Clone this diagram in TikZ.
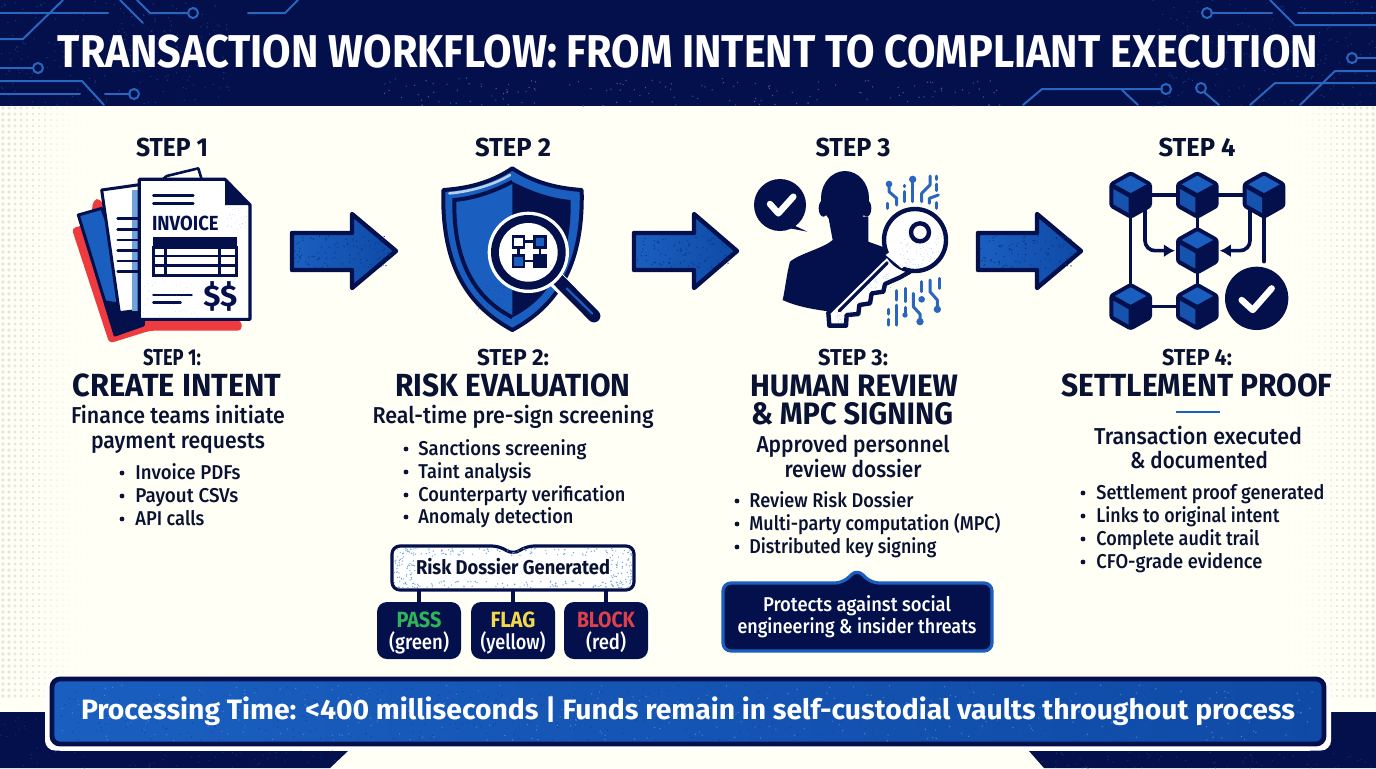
\documentclass[tikz,border=0pt]{standalone}
\usepackage{fontspec}
\usepackage{graphicx}
\setmainfont{Fira Sans}
\newfontfamily\fmedium{Fira Sans Medium}
\usetikzlibrary{arrows.meta,calc}
\definecolor{navy}{HTML}{03104C}
\definecolor{ink}{HTML}{0A1233}
\definecolor{cream}{HTML}{FFFFF6}
\definecolor{blu}{HTML}{1A5FC0}
\definecolor{bludark}{HTML}{0F4AA6}
\definecolor{blulight}{HTML}{6FA3DC}
\definecolor{circ}{HTML}{2A66BE}
\definecolor{redp}{HTML}{EE3B3F}
\definecolor{dotg}{HTML}{E6E6DD}
\definecolor{passg}{HTML}{2FB45A}
\definecolor{flagy}{HTML}{F3D94A}
\definecolor{blockr}{HTML}{E0404A}
\newsavebox\tbox
\newcommand\fitw[2]{\sbox\tbox{#2}\pgfmathsetmacro\rr{0.5*#1/\wd\tbox}\scalebox{\rr}[1]{\usebox\tbox}}
\newcommand\fontb{\bfseries}
\newcommand\fontr{\fmedium}
% name, centre x, visual y, width, px size, b|r, colour, text
\newcommand\tl[8]{\pgfmathsetmacro\by{#3+0.34*#5}\pgfmathsetmacro\fs{#5/2}%
  \node[inner sep=0,anchor=base,text=#7] (#1) at (#2,\by) {\fitw{#4}{\fontsize{\fs pt}{\fs pt}\selectfont\csname font#6\endcsname #8}};}
% name, left x, visual y, width, px size, b|r, colour, text
\newcommand\tll[8]{\pgfmathsetmacro\by{#3+0.34*#5}\pgfmathsetmacro\fs{#5/2}%
  \node[inner sep=0,anchor=base west,text=#7] (#1) at (#2,\by) {\fitw{#4}{\fontsize{\fs pt}{\fs pt}\selectfont\csname font#6\endcsname #8}};}
\newcommand\bul[2]{\fill[ink] (#1,#2) circle (2.4);}
% x0 y0 x1 y1 n colour
\newcommand\speck[6]{\foreach \k in {1,...,#5}{\pgfmathsetmacro\sa{#1+rnd*(#3-#1)}\pgfmathsetmacro\sb{#2+rnd*(#4-#2)}\fill[#6] (\sa,\sb) circle (0.7);}}
\tikzset{
 zoomed/.style 2 args={shift={(#1*0.5pt,-#2*0.5pt)},x=0.166667pt,y=-0.166667pt},
 circuit/.style={draw=circ,line width=1pt,line cap=round,line join=round},
 icircuit/.style={draw=circ,line width=1.5pt,line cap=round,line join=round},
 blockarrow/.style={draw=navy,line width=2.2pt,line join=round,left color=blu,right color=bludark},
 verdict/.style={fill=navy,rounded corners=5pt,minimum width=42pt,minimum height=28.5pt,inner sep=0},
 link/.style={draw=navy,line width=1.6pt},
 chainlink/.style={draw=navy,line width=1.8pt},
 pageline/.style={draw=navy,line width=1.2pt,line cap=round},
 anchorbox/.style={inner sep=0,minimum size=22pt},
}
\newcommand\cube[2]{% x y in zoom units
 \begin{scope}[shift={(#1,#2)}]
 \fill[navy,rounded corners=1.5pt] (0,-72)--(64,-36)--(64,36)--(0,72)--(-64,36)--(-64,-36)--cycle;
 \fill[blu] (0,-58)--(47,-32)--(0,-6)--(-47,-32)--cycle;
 \fill[blu!85!navy] (-52,-18)--(-6,8)--(-6,54)--(-52,28)--cycle;
 \end{scope}}
\begin{document}
\begin{tikzpicture}[x=0.5pt,y=-0.5pt]
\useasboundingbox (0,0) rectangle (1376,768);
\pgfmathsetseed{42}
\fill[cream] (0,0) rectangle (1376,768);
% halftone edges
\foreach \i in {0,...,14}{\pgfmathsetmacro\rd{1.9*(1-\i/15)}
 \foreach \j in {0,...,98}{\pgfmathsetmacro\dy{108+\j*6}
  \fill[dotg] ({3+\i*6},\dy) circle (\rd); \fill[dotg] ({1373-\i*6},\dy) circle (\rd);}}
% header
\fill[navy] (0,0) rectangle (1376,106);
\speck{380}{78}{1000}{106}{140}{blulight!55!navy}
\speck{0}{0}{230}{106}{200}{circ!50!navy}
\speck{1150}{0}{1376}{106}{200}{circ!50!navy}
\begin{scope}[circuit]
 \draw (0,13)--(108,13); \draw (0,39)--(23,39)--(63,0);
 \draw (120,0)--(143,23); \draw (137,0)--(150,13)--(188,13); \draw (193,13) circle (5);
 \draw (248,13)--(285,13)--(298,0);
 \draw (0,68)--(33,68); \draw (38,68) circle (5);
 \draw (0,81)--(82,81)--(104,105); \draw (0,94)--(80,94);
 \draw (105,94)--(130,94); \draw (134,94) circle (5);
 \draw (1207,13) circle (5); \draw (1212,13)--(1272,13);
 \draw (1270,0)--(1295,25)--(1376,25); \draw (1298,13)--(1376,13);
 \draw (1352,58) circle (5); \draw (1357,58)--(1376,58);
 \draw (1300,105)--(1335,71)--(1376,71); \draw (1250,105)--(1275,83)--(1376,83);
 \draw (1023,105)--(1042,89)--(1162,89); \draw (1166,89) circle (5);
 \draw (1122,90)--(1138,105); \draw (1201,88) circle (5); \draw (1204,92)--(1219,105);
\end{scope}
\tl{title}{688}{52}{1260}{46}{b}{white}{TRANSACTION WORKFLOW: FROM INTENT TO COMPLIANT EXECUTION}
% bottom band
\fill[navy] (0,712)--(60,712)--(60,751)--(348,751)--(330,768)--(0,768)--cycle;
\fill[navy] (1310,712)--(1376,712)--(1376,768)--(1044,768)--(1029,751)--(1310,751)--cycle;
\speck{0}{715}{340}{768}{120}{circ!40!navy}
\speck{1040}{752}{1376}{768}{60}{circ!40!navy}
\fill[white,rounded corners=5pt] (45,677) rectangle (1331,750.5);
\draw[navy,line width=2.4pt,left color=blu,right color=bludark,rounded corners=4pt] (52,679) rectangle (1324,744);
\begin{scope}
 \clip (55,682) rectangle (1321,741);
 \speck{60}{685}{1320}{741}{400}{navy!35!blu}
 \speck{60}{685}{1320}{741}{300}{blulight!60!blu}
\end{scope}
\tl{barline}{688}{710}{1214}{28}{b}{white}{Processing Time: <400 milliseconds | Funds remain in self-custodial vaults throughout process}
% step titles
\tl{s1}{172}{148}{72}{26}{b}{ink}{STEP 1}
\tl{s2}{513}{148}{76}{26}{b}{ink}{STEP 2}
\tl{s3}{853}{148}{75}{26}{b}{ink}{STEP 3}
\tl{s4}{1197}{148}{77}{26}{b}{ink}{STEP 4}
% arrows
\draw[blockarrow] (292,233)--(352,233)--(352,214)--(396,251)--(352,288)--(352,270)--(292,270)--cycle;
\draw[blockarrow] (634,233)--(694,233)--(694,214)--(737,251)--(694,288)--(694,270)--(634,270)--cycle;
\draw[blockarrow] (978,233)--(1037,233)--(1037,214)--(1081,251)--(1037,288)--(1037,270)--(978,270)--cycle;
\speck{295}{236}{390}{268}{90}{navy!55!blu}
\speck{637}{236}{730}{268}{90}{navy!55!blu}
\speck{981}{236}{1074}{268}{90}{navy!55!blu}
% ---- icon 1
\begin{scope}[zoomed={50}{160}]
 \fill[redp,rounded corners=2pt] (130,120)--(150,115)--(300,470)--(575,482)--(575,512)--(300,512)--(178,550)--(65,205)--(120,190)--cycle;
 \draw[navy,line width=1.5pt,fill=blu,line join=round] (85,165)--(155,145)--(280,460)--(280,495)--(195,525)--cycle;
 \fill[navy] (195,525)--(160,420)--(280,440)--(280,497)--cycle;
 \draw[navy,line width=1.3pt,line join=round,fill=cream] (350,48)--(445,25)--(455,58)--(300,90)--cycle;
 \draw[navy,line width=1.5pt,line join=round,fill=white] (155,90)--(275,73)--(275,450)--(208,458)--cycle;
 \fill[blulight] (245,90) rectangle (268,452);
 \foreach \ly in {175,208,240,272,303,335}{\draw[pageline] (203,\ly)--(265,\ly+0);}
 \draw[navy,line width=1.6pt,line join=round,fill=white] (268,58)--(525,58)--(600,135)--(600,478)--(268,478)--cycle;
 \fill[navy,line join=round] (525,58)--(600,135)--(525,135)--cycle;
 \draw[pageline] (310,107)--(430,107); \draw[pageline] (310,130)--(430,130);
 \draw[pageline] (310,405)--(425,405); \draw[pageline] (310,428)--(392,428);
 \node[inner sep=0,text=navy] (invoicelabel) at (406,189) {\fitw{66.5}{\fontsize{10.2pt}{10.2pt}\selectfont\bfseries INVOICE}};
 \node[inner sep=0,text=navy] (dollars) at (511,410) {\fitw{34}{\fontsize{15pt}{15pt}\selectfont\bfseries \$\$}};
 \fill[navy] (308,230) rectangle (562,263);
 \draw[navy,line width=1.4pt] (310,263) rectangle (560,347);
 \draw[navy,line width=1.4pt] (310,288)--(560,288) (310,316)--(560,316) (346,263)--(346,347) (508,263)--(508,347);
 \speck{280}{360}{450}{470}{50}{blulight}
 \speck{530}{140}{595}{210}{40}{blulight}
\end{scope}
% ---- icon 2
\begin{scope}[zoomed={420}{160}]
 \draw[navy,line width=2pt,fill=blu,line join=round] (277,25) .. controls (210,70) and (140,85) .. (70,90) .. controls (65,300) and (130,430) .. (277,510) .. controls (424,430) and (490,300) .. (485,90) .. controls (415,85) and (345,70) .. (277,25) -- cycle;
 \fill[navy] (277,65) .. controls (345,100) and (400,115) .. (452,120) .. controls (455,290) and (400,410) .. (277,472) -- cycle;
 \draw[navy,line width=2pt] (277,65) .. controls (210,100) and (155,115) .. (103,120) .. controls (100,290) and (155,410) .. (277,472);
 \draw[blulight!50!white,line width=1.3pt,line cap=round] (88,100) .. controls (150,95) and (220,75) .. (270,45);
 \speck{160}{370}{275}{460}{90}{navy!70!blu}
 \draw[white,line width=8.5pt] (405,355)--(445,395);
 \draw[navy,line width=6.4pt,line cap=round] (415,360)--(522,468);
 \draw[blu,line width=1.1pt,line cap=round] (440,385)--(517,461);
 \fill[white] (325,277) circle (122);
 \fill[navy] (325,277) circle (112);
 \fill[white] (325,277) circle (88);
 \draw[navy,line width=1.2pt] (312,245)--(342,245) (295,262)--(295,285) (312,303)--(342,303) (360,262)--(360,285);
 \draw[navy,line width=1.2pt,fill=white] (279,229) rectangle (312,262);
 \draw[navy,line width=1.2pt,fill=blu] (343,229) rectangle (377,262);
 \draw[navy,line width=1.2pt,fill=blu] (279,286) rectangle (312,321);
 \draw[navy,line width=1.2pt,fill=navy] (343,286) rectangle (377,321);
\end{scope}
% ---- icon 3
\begin{scope}[zoomed={740}{160}]
 \fill[navy] (120,135) circle (78);
 \fill[navy] (160,195)--(202,215)--(150,205)--cycle;
 \draw[white,line width=3.2pt,line cap=round,line join=round] (90,132)--(115,160)--(160,110);
 \fill[navy] (315,115) ellipse (72 and 82);
 \fill[navy] (250,145) ellipse (14 and 25) (380,145) ellipse (14 and 25);
 \fill[navy,line join=round] (265,170)--(278,240) .. controls (250,265) and (180,280) .. (150,305) .. controls (140,340) and (135,390) .. (128,420) .. controls (170,440) and (230,450) .. (275,455)--(440,290)--(440,265)--(385,245)--(385,170)--cycle;
 \begin{scope}[icircuit]
  \fill[circ] (447,72) circle (10) (518,58) circle (11);
  \draw (447,72)--(447,95)--(470,115)--(470,135);
  \draw (442,130)--(442,145); \draw (492,76)--(492,80); \draw (492,95)--(492,125);
  \draw (518,58)--(518,125); \draw (545,125)--(545,100)--(570,75)--(570,48);
  \draw (590,48)--(590,58); \draw (590,72)--(590,92); \draw (568,130)--(568,115)--(595,105);
  \draw (590,128)--(590,145);
  \draw (597,355)--(597,385); \draw (545,365)--(545,395);
  \fill[circ] (545,418) circle (10) (592,448) circle (11) (495,465) circle (8) (540,485) circle (11);
  \draw (570,360)--(570,395)--(592,420)--(592,448);
  \draw (495,385)--(495,425); \draw (495,442)--(495,465); \draw (468,392)--(468,420);
  \draw (520,400)--(520,440)--(540,462)--(540,485);
  \draw (445,448)--(445,462); \draw (445,478)--(445,495); \draw (470,435)--(470,495);
 \end{scope}
 \draw[navy,line width=2.2pt,line join=round,fill=white] (265,458)--(440,285)--(510,335)--(480,352)--(435,372)--(430,395)--(395,400)--(390,430)--(358,435)--(355,462)--(320,465)--(318,497)--(268,497)--cycle;
 \draw[navy,line width=2.2pt,fill=white] (525,240) circle (93);
 \fill[white] (437,285) -- (485,325) -- (520,300) -- (470,260) -- cycle;
 \begin{scope}
  \clip (525,240) circle (88);
  \speck{480}{210}{615}{330}{110}{blu!80!white}
 \end{scope}
 \speck{285}{455}{340}{490}{30}{blu!80!white}
 \speck{380}{340}{460}{385}{40}{blu!80!white}
 \draw[navy,line width=2.2pt,fill=white] (540,217) circle (27);
 \draw[navy,line width=1.6pt,line cap=round] (298,452)--(442,308);
\end{scope}
% ---- icon 4
\begin{scope}[zoomed={1060}{160}]
 \coordinate (c3end) at (612,305);
 \coordinate (a1) at (255,150); \coordinate (a2) at (570,150);
 \node[anchorbox] (n1) at (212,105) {};
 \node[anchorbox] (n2) at (412,105) {};
 \node[anchorbox] (n3) at (612,105) {};
 \node[anchorbox] (n4) at (412,272) {};
 \node[anchorbox] (n5) at (212,440) {};
 \node[anchorbox] (n6) at (412,440) {};
 \draw[chainlink] (n1.center)--(n3.center);
 \draw[chainlink] (n2.center)--(n6.center);
 \draw[chainlink] (n1.center)--(n5.center);
 \draw[chainlink] (n5.center)--(n6.center);
 \draw[chainlink,line cap=round] (n3.center)--(c3end);
 \cube{212}{105}\cube{412}{105}\cube{612}{105}\cube{412}{272}\cube{212}{440}\cube{412}{440}
 \draw[chainlink,-{Latex[length=5.5pt,width=6.5pt]},rounded corners=5pt] (a1)--(255,272)--(n4.west);
 \draw[chainlink,-{Latex[length=5.5pt,width=6.5pt]},rounded corners=5pt] (a2)--(570,272)--(n4.east);
 \fill[navy] (590,415) circle (95);
 \draw[white,line width=3.2pt,line cap=round,line join=round] (545,420)--(578,450)--(635,385);
\end{scope}
% ---- column 1
\tl{t1a}{172}{358}{58}{23}{b}{ink}{STEP 1:}
\tl{t1b}{177}{386}{209}{32}{b}{ink}{CREATE INTENT}
\tl{t1c}{178}{416}{214}{23}{r}{ink}{Finance teams initiate}
\tl{t1d}{178}{441}{174}{23}{r}{ink}{payment requests}
\bul{122}{473}\tll{b11}{135}{473}{105}{20}{r}{ink}{Invoice PDFs}
\bul{122}{496}\tll{b12}{135}{496}{103}{20}{r}{ink}{Payout CSVs}
\bul{122}{519}\tll{b13}{135}{519}{69}{20}{r}{ink}{API calls}
% ---- column 2
\tl{t2a}{513}{358}{72}{23}{b}{ink}{STEP 2:}
\tl{t2b}{513}{386}{235}{32}{b}{ink}{RISK EVALUATION}
\tl{t2c}{513}{416}{281}{23}{r}{ink}{Real-time pre-sign screening}
\bul{406}{449}\tll{b21}{418}{449}{168}{20}{r}{ink}{Sanctions screening}
\bul{406}{472}\tll{b22}{418}{472}{113}{20}{r}{ink}{Taint analysis}
\bul{406}{495}\tll{b23}{418}{495}{207}{20}{r}{ink}{Counterparty verification}
\bul{406}{517}\tll{b24}{418}{517}{155}{20}{r}{ink}{Anomaly detection}
% dossier
\node[inner sep=0,minimum width=121pt,minimum height=22.5pt] (dossier) at (513,567.5) {};
\node[verdict] (pass) at (419,630.5) {};
\node[verdict] (flag) at (513,630.5) {};
\node[verdict] (block) at (606,630.5) {};
\draw[link] (pass.north) -- (pass.north |- dossier.south);
\draw[link] (flag.north) -- (flag.north |- dossier.south);
\draw[link] (block.north) -- (block.north |- dossier.south);
\draw[navy,line width=1.6pt,fill=white,rounded corners=4pt] (392,546)--(500,546)--(513,555)--(526,546)--(634,546)--(634,590)--(392,590)--cycle;
\begin{scope}
 \clip (394,548) rectangle (632,588);
 \speck{394}{548}{415}{588}{60}{blulight}
 \speck{610}{548}{632}{588}{60}{blulight}
 \speck{394}{548}{632}{556}{90}{blulight}
 \speck{394}{581}{632}{588}{90}{blulight}
\end{scope}
\tl{dlabel}{513}{568}{194}{20}{b}{ink}{Risk Dossier Generated}
\tl{p1}{419}{620}{45}{22}{b}{passg}{PASS}
\tl{p2}{419}{642}{60}{21}{r}{white}{(green)}
\tl{f1}{513}{620}{45}{22}{b}{flagy}{FLAG}
\tl{f2}{513}{642}{65}{21}{r}{white}{(yellow)}
\tl{x1}{606}{620}{58}{22}{b}{blockr}{BLOCK}
\tl{x2}{606}{642}{40}{21}{r}{white}{(red)}
% ---- column 3
\tl{t3a}{853}{358}{70}{23}{b}{ink}{STEP 3:}
\tl{t3b}{854}{386}{208}{31}{b}{ink}{HUMAN REVIEW}
\tl{t3c}{852}{414}{202}{31}{b}{ink}{\& MPC SIGNING}
\tl{t3d}{853}{445}{193}{23}{r}{ink}{Approved personnel}
\tl{t3e}{853}{470}{137}{23}{r}{ink}{review dossier}
\bul{737}{501}\tll{b31}{749}{501}{164}{20}{r}{ink}{Review Risk Dossier}
\bul{737}{524}\tll{b32}{749}{524}{251}{20}{r}{ink}{Multi-party computation (MPC)}
\bul{737}{547}\tll{b33}{749}{547}{187}{20}{r}{ink}{Distributed key signing}
\draw[blu,line width=1.6pt,fill=navy,rounded corners=4pt,line join=round] (723,583)--(843,583)--(857,569)--(871,583)--(992,583)--(992,651)--(723,651)--cycle;
\tl{c1}{857}{605}{188}{20}{r}{white}{Protects against social}
\tl{c2}{857}{627}{239}{20}{r}{white}{engineering \& insider threats}
% ---- column 4
\tl{t4a}{1197}{358}{70}{23}{b}{ink}{STEP 4:}
\tl{t4b}{1197}{386}{271}{32}{b}{ink}{SETTLEMENT PROOF}
\fill[blu] (1176,411) rectangle (1220,413);
\tl{t4c}{1198}{437}{208}{23}{r}{ink}{Transaction executed}
\tl{t4d}{1199}{461}{138}{23}{r}{ink}{\& documented}
\bul{1083}{493}\tll{b41}{1096}{493}{228}{20}{r}{ink}{Settlement proof generated}
\bul{1083}{516}\tll{b42}{1096}{516}{183}{20}{r}{ink}{Links to original intent}
\bul{1083}{539}\tll{b43}{1096}{539}{163}{20}{r}{ink}{Complete audit trail}
\bul{1083}{562}\tll{b44}{1096}{562}{166}{20}{r}{ink}{CFO-grade evidence}
\end{tikzpicture}
\end{document}
